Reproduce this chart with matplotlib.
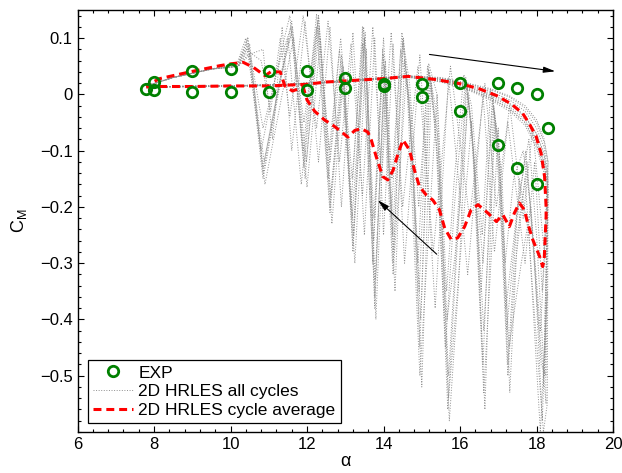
import matplotlib
matplotlib.use("Agg")
import matplotlib.pyplot as plt
from matplotlib.ticker import MultipleLocator

plt.rcParams['font.family'] = ['Liberation Sans', 'DejaVu Sans']
plt.rcParams['mathtext.fontset'] = 'custom'
plt.rcParams['mathtext.rm'] = 'Liberation Sans'
plt.rcParams['mathtext.it'] = 'Liberation Sans'

# experiment
exp_alpha = [7.8, 8.0, 8.0, 9.0, 9.0, 10.0, 10.0, 11.0, 11.0, 12.0, 12.0, 13.0, 13.0,
             14.0, 14.0, 15.0, 15.0, 16.0, 16.0, 17.0, 17.0, 17.5, 17.5, 18.0, 18.0, 18.3]
exp_cm = [0.01, 0.022, 0.007, 0.041, 0.004, 0.045, 0.004, 0.041, 0.004, 0.041, 0.008, 0.030, 0.011,
          0.018, 0.015, 0.018, -0.005, 0.020, -0.030, 0.020, -0.090, 0.012, -0.130, 0.0, -0.159, -0.060]

# cycle average (upstroke then downstroke)
avg_alpha = [7.8, 8.0, 9.0, 10.0, 11.0, 12.0, 12.5, 13.0, 14.0, 14.64, 15.3, 16.0, 16.5, 16.95,
             17.34, 17.64, 17.81, 17.99, 18.12, 18.21, 18.25, 18.25, 18.2, 18.16,
             18.08, 17.9, 17.77, 17.68, 17.55, 17.42, 17.29, 17.12, 16.95, 16.73, 16.47, 16.29,
             16.12, 15.94, 15.77, 15.6, 15.46, 15.29, 15.12, 14.94, 14.81, 14.68, 14.51, 14.38,
             14.25, 14.11, 13.98, 13.81, 13.68, 13.59, 13.42, 13.25, 13.07, 12.85, 12.68, 12.45,
             12.2, 12.0, 11.9, 11.62, 11.42, 11.3, 11.05, 10.9, 10.6, 10.33, 9.98, 9.72, 8.94,
             8.15, 7.89, 7.8]
avg_cm = [0.013, 0.014, 0.014, 0.015, 0.015, 0.018, 0.022, 0.024, 0.028, 0.032, 0.027, 0.019, 0.010, -0.002,
          -0.017, -0.034, -0.052, -0.075, -0.105, -0.146, -0.200, -0.217, -0.294, -0.306,
          -0.288, -0.258, -0.229, -0.205, -0.193, -0.211, -0.235, -0.214, -0.226, -0.211, -0.196, -0.205,
          -0.235, -0.255, -0.258, -0.238, -0.205, -0.188, -0.179, -0.164, -0.135, -0.099, -0.081, -0.105,
          -0.135, -0.152, -0.146, -0.111, -0.081, -0.067, -0.061, -0.064, -0.076, -0.064, -0.055, -0.045,
          -0.030, -0.010, 0.013, 0.006, 0.015, 0.040, 0.040, 0.033, 0.048, 0.057, 0.054, 0.051, 0.040,
          0.028, 0.019, 0.015]

# all cycles: shared upstroke angles, per-cycle values
up_alpha = [7.8, 8.5, 9.5, 10.5, 11.5, 12.5, 13.5, 14.6, 15.5, 16.2, 16.8, 17.3, 17.7, 18.0, 18.2, 18.3]
up_cm_1 = [0.013, 0.014, 0.015, 0.015, 0.017, 0.021, 0.026, 0.032, 0.026, 0.012, -0.003, -0.022, -0.045, -0.080, -0.120, -0.170]
up_cm_2 = [0.013, 0.014, 0.015, 0.016, 0.018, 0.022, 0.027, 0.033, 0.030, 0.020, 0.010, -0.003, -0.020, -0.045, -0.080, -0.120]
up_cm_3 = [0.012, 0.013, 0.014, 0.015, 0.017, 0.021, 0.025, 0.031, 0.022, 0.008, -0.010, -0.030, -0.055, -0.095, -0.140, -0.190]
up_cm_4 = [0.013, 0.014, 0.015, 0.016, 0.018, 0.022, 0.026, 0.032, 0.028, 0.017, 0.005, -0.010, -0.030, -0.060, -0.095, -0.140]
up_cm_5 = [0.012, 0.014, 0.014, 0.015, 0.017, 0.021, 0.025, 0.031, 0.024, 0.010, -0.006, -0.026, -0.050, -0.085, -0.125, -0.170]
up_cm_6 = [0.013, 0.014, 0.015, 0.016, 0.018, 0.022, 0.027, 0.033, 0.027, 0.015, 0.002, -0.016, -0.038, -0.070, -0.105, -0.155]
up_cm_7 = [0.013, 0.014, 0.015, 0.016, 0.018, 0.022, 0.026, 0.032, 0.026, 0.013, -0.001, -0.018, -0.040, -0.070, -0.110, -0.150]
up_cm_8 = [0.013, 0.014, 0.015, 0.016, 0.018, 0.022, 0.027, 0.033, 0.029, 0.019, 0.008, -0.005, -0.024, -0.050, -0.085, -0.120]
up_cm_9 = [0.012, 0.013, 0.014, 0.015, 0.017, 0.021, 0.025, 0.031, 0.023, 0.009, -0.007, -0.026, -0.050, -0.090, -0.130, -0.160]

dn_alpha_1 = [18.3, 18.22, 18.15, 17.95, 17.75, 17.45, 17.25, 17.05, 16.88, 16.6, 16.35, 16.18, 15.9, 15.68, 15.4, 15.2, 14.95, 14.7,
              14.52, 14.25, 14.02, 13.77, 13.52, 13.2, 12.92, 12.6, 12.3, 11.95, 11.6, 11.3, 10.85, 10.45, 10.2, 9.5, 8.5, 7.8]
dn_cm_1 = [-0.17, -0.45, -0.58, -0.30, -0.12, -0.30, -0.50, -0.20, -0.02, -0.48, -0.10, 0.02, -0.30, -0.56, -0.10, 0.04, -0.45, -0.05,
           0.10, -0.30, 0.05, -0.38, 0.11, -0.28, 0.06, -0.20, 0.14, -0.15, 0.13, 0.02, -0.15, 0.09, 0.055, 0.045, 0.03, 0.015]
dn_alpha_2 = [18.3, 18.25, 18.2, 18.0, 17.8, 17.5, 17.2, 17.0, 16.85, 16.55, 16.3, 16.15, 15.85, 15.62, 15.35, 15.15, 14.9, 14.65,
              14.45, 14.2, 13.98, 13.72, 13.45, 13.15, 12.85, 12.55, 12.25, 11.9, 11.55, 11.2, 10.8, 10.4, 10.15, 9.5, 8.5, 7.8]
dn_cm_2 = [-0.12, -0.35, -0.50, -0.25, -0.08, -0.20, -0.38, -0.12, 0.0, -0.35, -0.05, 0.03, -0.20, -0.45, -0.05, 0.05, -0.30, 0.0,
           0.08, -0.22, 0.08, -0.30, 0.12, -0.20, 0.08, -0.15, 0.143, -0.10, 0.14, 0.04, -0.10, 0.10, 0.05, 0.045, 0.03, 0.015]
dn_alpha_3 = [18.3, 18.28, 18.18, 17.9, 17.7, 17.5, 17.3, 17.1, 16.9, 16.65, 16.4, 16.2, 15.95, 15.72, 15.45, 15.25, 15.0, 14.75,
              14.55, 14.3, 14.05, 13.8, 13.55, 13.25, 12.95, 12.65, 12.35, 12.0, 11.65, 11.35, 10.9, 10.5, 10.2, 9.5, 8.5, 7.8]
dn_cm_3 = [-0.19, -0.55, -0.60, -0.35, -0.15, -0.25, -0.53, -0.15, -0.03, -0.56, -0.15, 0.0, -0.35, -0.58, -0.15, 0.02, -0.52, -0.10,
           0.06, -0.35, 0.02, -0.40, 0.08, -0.30, 0.03, -0.23, 0.10, -0.165, 0.10, 0.0, -0.16, 0.07, 0.05, 0.045, 0.03, 0.015]
dn_alpha_4 = [18.3, 18.2, 18.1, 17.85, 17.65, 17.4, 17.18, 17.0, 16.8, 16.58, 16.3, 16.1, 15.85, 15.65, 15.4, 15.18, 14.92, 14.68,
              14.48, 14.22, 14.0, 13.75, 13.48, 13.18, 12.88, 12.58, 12.28, 11.92, 11.58, 11.25, 10.85, 10.45, 10.2, 9.5, 8.5, 7.8]
dn_cm_4 = [-0.14, -0.30, -0.42, -0.20, -0.10, -0.15, -0.30, -0.08, 0.01, -0.25, -0.02, 0.035, -0.15, -0.35, 0.0, 0.055, -0.20, 0.02,
           0.11, -0.15, 0.10, -0.22, 0.12, -0.15, 0.10, -0.10, 0.13, -0.05, 0.12, 0.05, -0.06, 0.10, 0.055, 0.045, 0.03, 0.015]
dn_alpha_5 = [18.3, 18.22, 18.25, 18.05, 17.85, 17.6, 17.28, 17.08, 16.92, 16.62, 16.38, 16.22, 15.92, 15.7, 15.42, 15.22, 14.97, 14.72,
              14.5, 14.27, 14.05, 13.78, 13.5, 13.22, 12.95, 12.62, 12.32, 11.98, 11.62, 11.3, 10.88, 10.48, 10.2, 9.5, 8.5, 7.8]
dn_cm_5 = [-0.17, -0.40, -0.55, -0.40, -0.20, -0.30, -0.45, -0.18, -0.05, -0.42, -0.12, -0.01, -0.25, -0.50, -0.08, 0.03, -0.40, -0.03,
           0.09, -0.28, 0.06, -0.33, 0.10, -0.25, 0.05, -0.18, 0.12, -0.12, 0.12, 0.03, -0.12, 0.08, 0.05, 0.045, 0.03, 0.015]
dn_alpha_6 = [18.3, 18.25, 18.12, 17.92, 17.72, 17.48, 17.22, 17.02, 16.86, 16.6, 16.33, 16.16, 15.88, 15.66, 15.38, 15.18, 14.93, 14.68,
              14.5, 14.24, 14.0, 13.74, 13.5, 13.18, 12.9, 12.6, 12.3, 11.92, 11.6, 11.28, 10.85, 10.45, 10.2, 9.5, 8.5, 7.8]
dn_cm_6 = [-0.155, -0.50, -0.48, -0.28, -0.10, -0.22, -0.42, -0.10, -0.01, -0.30, -0.08, 0.02, -0.28, -0.40, -0.03, 0.045, -0.35, -0.02,
           0.10, -0.25, 0.07, -0.26, 0.10, -0.22, 0.07, -0.12, 0.14, -0.13, 0.11, 0.02, -0.13, 0.10, 0.05, 0.045, 0.03, 0.015]
dn_alpha_7 = [18.3, 18.15, 17.95, 17.7, 17.25, 16.9, 16.6, 16.2, 15.7, 15.35, 14.95, 14.55, 14.25, 14.0, 13.77, 13.5, 13.2, 12.9,
              12.6, 12.3, 11.95, 11.6, 11.35, 11.1, 10.85, 10.45, 10.2, 9.5, 8.5, 7.8]
dn_cm_7 = [-0.15, -0.35, -0.12, -0.30, -0.05, -0.28, 0.0, -0.32, 0.03, -0.38, 0.07, -0.30, 0.09, -0.25, 0.10, -0.25, 0.11, -0.20,
           0.12, -0.12, 0.13, -0.10, 0.12, -0.08, 0.08, 0.07, 0.05, 0.045, 0.03, 0.015]
dn_alpha_8 = [18.3, 18.2, 17.9, 17.65, 17.3, 16.95, 16.65, 16.25, 15.75, 15.3, 14.9, 14.5, 14.2, 13.95, 13.72, 13.45, 13.15, 12.85,
              12.55, 12.25, 11.9, 11.55, 11.3, 11.05, 10.8, 10.4, 10.2, 9.5, 8.5, 7.8]
dn_cm_8 = [-0.12, -0.28, -0.06, -0.22, -0.02, -0.20, 0.02, -0.22, 0.05, -0.28, 0.05, -0.20, 0.11, -0.15, 0.12, -0.18, 0.09, -0.12,
           0.13, -0.06, 0.14, -0.04, 0.10, -0.03, 0.06, 0.08, 0.05, 0.045, 0.03, 0.015]
dn_alpha_9 = [18.3, 18.18, 18.28, 18.1, 17.8, 17.55, 17.25, 17.0, 16.62, 16.3, 15.7, 15.4, 14.95, 14.6, 14.25, 14.0, 13.77, 13.45,
              13.2, 12.95, 12.6, 12.25, 11.85, 11.5, 10.85, 10.5, 10.2, 9.5, 8.5, 7.8]
dn_cm_9 = [-0.16, -0.52, -0.35, -0.60, -0.25, -0.15, -0.48, -0.06, -0.53, -0.05, -0.54, 0.0, -0.50, 0.04, -0.32, 0.0, -0.36, 0.09,
           -0.27, 0.04, -0.21, 0.12, -0.16, 0.10, -0.14, 0.09, 0.05, 0.045, 0.03, 0.015]

cycles = [(up_cm_1, dn_alpha_1, dn_cm_1), (up_cm_2, dn_alpha_2, dn_cm_2), (up_cm_3, dn_alpha_3, dn_cm_3),
          (up_cm_4, dn_alpha_4, dn_cm_4), (up_cm_5, dn_alpha_5, dn_cm_5), (up_cm_6, dn_alpha_6, dn_cm_6),
          (up_cm_7, dn_alpha_7, dn_cm_7), (up_cm_8, dn_alpha_8, dn_cm_8), (up_cm_9, dn_alpha_9, dn_cm_9)]

fig = plt.figure(figsize=(6.22, 4.73), dpi=100)
ax = fig.add_axes([0.1246, 0.0867, 0.861, 0.8922])

gray = (0.56, 0.56, 0.56)
for i, (ucm, da, dcm) in enumerate(cycles):
    ax.plot(up_alpha + da, ucm + dcm, ls=':', lw=0.7, color=gray,
            label='2D HRLES all cycles' if i == 0 else None, zorder=1)

ax.plot(avg_alpha, avg_cm, color='red', lw=2.2, dashes=(2.6, 1.6),
        label='2D HRLES cycle average', zorder=2)
ax.plot(exp_alpha, exp_cm, 'o', mfc='none', mec=(0, 0.5, 0), mew=2, ms=7.5,
        label='EXP', zorder=3)

arrow = dict(arrowstyle='-|>,head_length=0.7,head_width=0.18', color='k', lw=0.8,
             shrinkA=0, shrinkB=0)
ax.annotate('', xy=(18.49, 0.041), xytext=(15.2, 0.071), arrowprops=arrow)
ax.annotate('', xy=(13.85, -0.188), xytext=(15.39, -0.284), arrowprops=arrow)

ax.set_xlim(6, 20)
ax.set_ylim(-0.6, 0.15)
ax.xaxis.set_major_locator(MultipleLocator(2))
ax.xaxis.set_minor_locator(MultipleLocator(0.4))
ax.set_yticks([-0.5, -0.4, -0.3, -0.2, -0.1, 0, 0.1])
ax.yaxis.set_minor_locator(MultipleLocator(0.02))
ax.set_yticklabels(['\u22120.5', '\u22120.4', '\u22120.3', '\u22120.2', '\u22120.1', '0', '0.1'])
ax.tick_params(which='both', direction='in', top=True, right=True, labelsize=12, width=0.8)
ax.tick_params(which='major', length=4)
ax.tick_params(which='minor', length=2)
for s in ax.spines.values():
    s.set_linewidth(1.0)

ax.set_xlabel('\u03b1', fontsize=13, labelpad=1)
ax.set_ylabel(r'$\mathregular{C_M}$', fontsize=13, labelpad=8)

h, l = ax.get_legend_handles_labels()
order = [2, 0, 1]
leg = ax.legend([h[i] for i in order], [l[i] for i in order], loc='lower left',
                bbox_to_anchor=(0.0196, 0.0213), borderaxespad=0, fontsize=12.5,
                fancybox=False, framealpha=1, edgecolor='k', handlelength=2.3,
                handletextpad=0.3, labelspacing=0.2, borderpad=0.3)
leg.get_frame().set_linewidth(0.9)

fig.savefig('out.png', dpi=100)
